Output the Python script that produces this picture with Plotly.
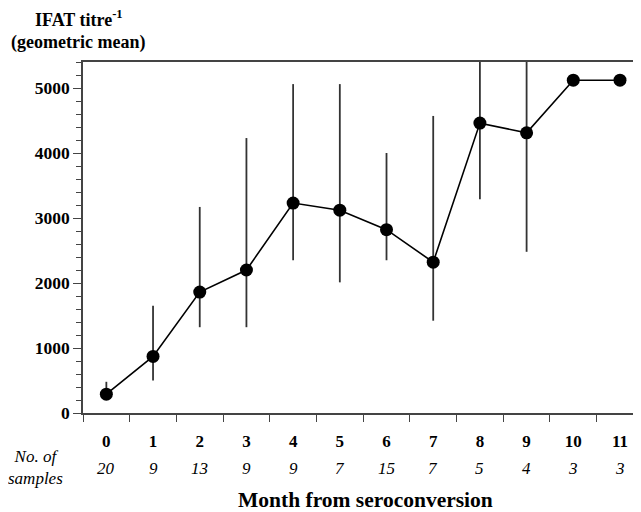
import plotly.graph_objects as go

months = ["0", "1", "2", "3", "4", "5", "6", "7", "8", "9", "10", "11"]
samples = ["20", "9", "13", "9", "9", "7", "15", "7", "5", "4", "3", "3"]
geo_mean = [290, 870, 1860, 2200, 3230, 3120, 2820, 2320, 4460, 4310, 5120, 5120]
range_low = [200, 500, 1320, 1320, 2350, 2010, 2350, 1420, 3290, 2480, 5120, 5120]
range_high = [480, 1650, 3170, 4230, 5060, 5060, 4000, 4570, 5800, 5800, 5120, 5120]
y_ticks = [0, 1000, 2000, 3000, 4000, 5000]

err_plus = [h - m for h, m in zip(range_high, geo_mean)]
err_minus = [m - l for m, l in zip(geo_mean, range_low)]

SERIF = "Liberation Serif"

fig = go.Figure()
fig.add_trace(go.Scatter(
    x=months, y=geo_mean, mode="lines+markers",
    line=dict(color="black", width=1.6),
    marker=dict(color="black", size=13),
    error_y=dict(type="data", symmetric=False, array=err_plus, arrayminus=err_minus,
                 color="#333333", thickness=1.8, width=0),
    showlegend=False,
))

for m, s in zip(months, samples):
    fig.add_annotation(x=m, y=-0.157, xref="x", yref="paper", text="<i>%s</i>" % s,
                       showarrow=False, font=dict(family=SERIF, size=17, color="black"),
                       xanchor="center", yanchor="middle")

fig.add_annotation(x=-0.086, y=-0.155, xref="paper", yref="paper",
                   text="<i>No. of</i><br><i>samples</i>", showarrow=False, align="center",
                   font=dict(family=SERIF, size=17, color="black"),
                   xanchor="center", yanchor="middle")
fig.add_annotation(x=0.507, y=-0.248, xref="paper", yref="paper",
                   text="<b>Month from seroconversion</b>", showarrow=False,
                   font=dict(family=SERIF, size=21.5, color="black"),
                   xanchor="center", yanchor="middle")

layout_title = [("<b>IFAT titre<sup>-1</sup></b>", 79, 18), ("<b>(geometric mean)</b>", 78, 42)]
for txt, px, py in layout_title:
    fig.add_annotation(x=(px - 83) / 558, y=(413 - py) / 351, xref="paper", yref="paper",
                       text=txt, showarrow=False, font=dict(family=SERIF, size=18, color="black"),
                       xanchor="center", yanchor="middle")

fig.update_xaxes(
    type="category", range=[-0.5, 11.45], tickson="boundaries",
    showline=True, linecolor="#444444", linewidth=1.5, mirror=True,
    ticks="outside", ticklen=7, tickcolor="#444444", tickwidth=1.2,
    tickfont=dict(family=SERIF, size=17, color="black"),
    tickvals=months, ticktext=["<b>%s</b>" % m for m in months],
    ticklabelstandoff=12,
    showgrid=False, zeroline=False,
)
fig.update_yaxes(
    range=[0, 5400], tickvals=y_ticks,
    ticktext=["<b>%d</b>" % v for v in y_ticks],
    showline=True, linecolor="#444444", linewidth=1.5,
    ticks="outside", ticklen=8, tickcolor="#444444", tickwidth=1.2,
    minor=dict(dtick=200, ticks="outside", ticklen=5, tickcolor="#444444", tickwidth=1),
    tickfont=dict(family=SERIF, size=17.5, color="black"),
    showgrid=False, zeroline=False,
)
fig.update_layout(
    width=633, height=504,
    margin=dict(l=75, r=0, t=54, b=99),
    paper_bgcolor="white", plot_bgcolor="white",
)
fig.write_html("out.html")
